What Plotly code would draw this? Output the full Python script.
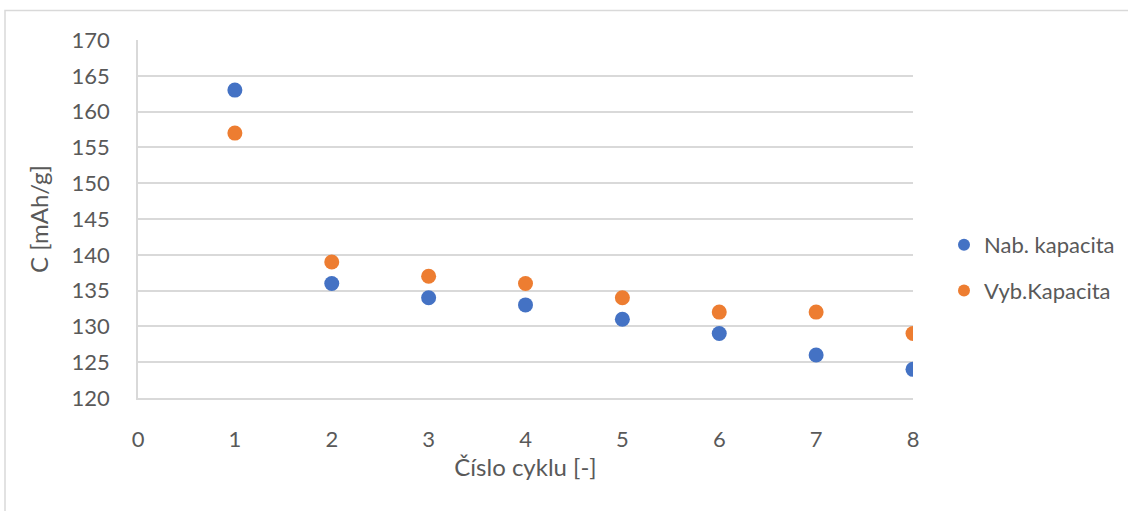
import plotly.graph_objects as go

cycles = [1, 2, 3, 4, 5, 6, 7, 8]
nab_kapacita = [163, 136, 134, 133, 131, 129, 126, 124]
vyb_kapacita = [157, 139, 137, 136, 134, 132, 132, 129]
x_ticks = [0, 1, 2, 3, 4, 5, 6, 7, 8]
y_ticks = [120, 125, 130, 135, 140, 145, 150, 155, 160, 165, 170]

W, H = 1128, 511
L, R, T, B = 138, 215, 40, 113
pw, ph = W - L - R, H - T - B

FONT = "Lato"
TXT = "#595959"
GRID = "#d9d9d9"

fig = go.Figure()
fig.add_trace(go.Scatter(x=cycles, y=nab_kapacita, mode="markers", name="Nab. kapacita",
                         legendgroup="a", marker=dict(color="#4472C4", size=15)))
fig.add_trace(go.Scatter(x=cycles, y=vyb_kapacita, mode="markers", name="Vyb.Kapacita",
                         legendgroup="b", marker=dict(color="#ED7D31", size=15)))

def px(x):
    return (x - L) / pw

def py(y):
    return (H - B - y) / ph

fig.add_shape(type="rect", xref="paper", yref="paper",
              x0=px(5), x1=px(W + 10), y0=py(10.5), y1=py(H + 10),
              line=dict(color=GRID, width=1.5), fillcolor="rgba(0,0,0,0)", layer="below")

fig.update_layout(
    width=W, height=H,
    margin=dict(l=L, r=R, t=T, b=B, autoexpand=False),
    paper_bgcolor="white", plot_bgcolor="white",
    font=dict(family=FONT, color=TXT, size=22),
    showlegend=True,
    legend=dict(x=px(944), y=py(224), xanchor="left", yanchor="top",
                font=dict(size=22, color=TXT, family=FONT),
                itemsizing="constant", traceorder="grouped", tracegroupgap=14,
                itemwidth=30, bgcolor="rgba(0,0,0,0)"),
    xaxis=dict(range=[0, 8], tickvals=x_ticks, ticktext=[str(v) for v in x_ticks],
               showgrid=False, zeroline=False, showline=True, linecolor=GRID, linewidth=1.5,
               ticks="outside", ticklen=21, tickcolor="rgba(0,0,0,0)",
               tickfont=dict(size=22, color=TXT, family=FONT),
               title=dict(text="Číslo cyklu [-]", font=dict(size=24, color=TXT, family=FONT), standoff=5)),
    yaxis=dict(range=[120, 170], tickvals=y_ticks, ticktext=[str(v) for v in y_ticks],
               showgrid=True, gridcolor=GRID, gridwidth=1.5, zeroline=False,
               showline=True, linecolor=GRID, linewidth=1.5,
               ticks="outside", ticklen=22, tickcolor="rgba(0,0,0,0)",
               tickfont=dict(size=22, color=TXT, family=FONT),
               title=dict(text="C [mAh/g]", font=dict(size=24, color=TXT, family=FONT), standoff=16)),
)

fig.write_html("out.html", config={"displayModeBar": False},
               post_script="document.body.style.margin='0';")
